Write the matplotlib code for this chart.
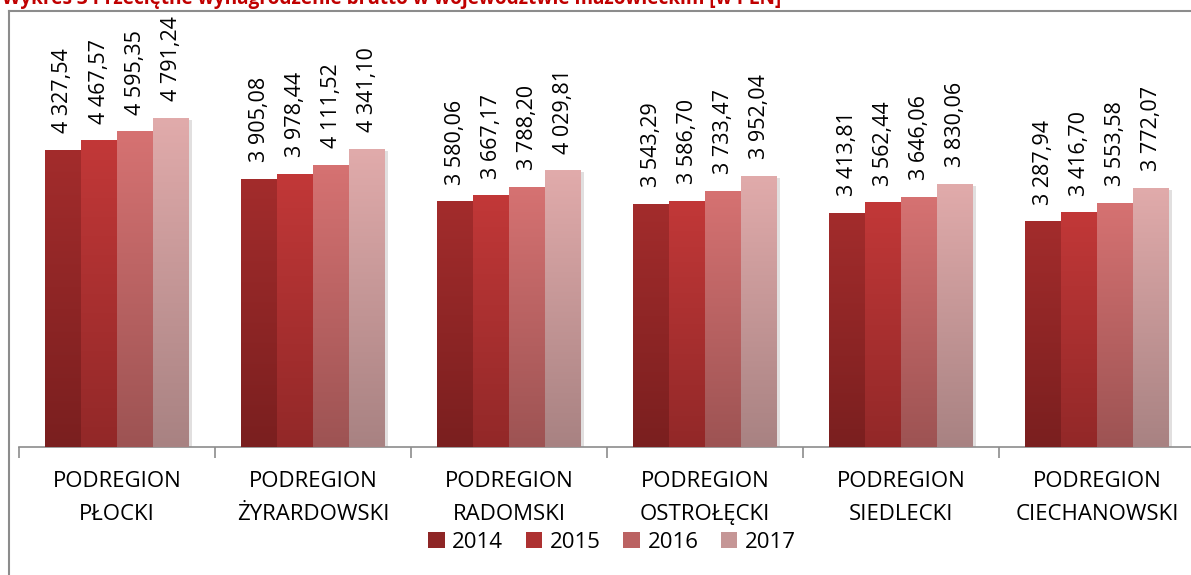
import numpy as np
import matplotlib
matplotlib.use("Agg")
import matplotlib.pyplot as plt
from matplotlib.colors import LinearSegmentedColormap
from matplotlib.patches import Rectangle
import matplotlib.patheffects as pe

# === DATA ===
regions = ["PODREGION\nPŁOCKI", "PODREGION\nŻYRARDOWSKI", "PODREGION\nRADOMSKI",
           "PODREGION\nOSTROŁĘCKI", "PODREGION\nSIEDLECKI", "PODREGION\nCIECHANOWSKI"]
years = ["2014", "2015", "2016", "2017"]
wages_2014 = [4327.54, 3905.08, 3580.06, 3543.29, 3413.81, 3287.94]
wages_2015 = [4467.57, 3978.44, 3667.17, 3586.70, 3562.44, 3416.70]
wages_2016 = [4595.35, 4111.52, 3788.20, 3733.47, 3646.06, 3553.58]
wages_2017 = [4791.24, 4341.10, 4029.81, 3952.04, 3830.06, 3772.07]
series = [wages_2014, wages_2015, wages_2016, wages_2017]

# gradient colours (top, bottom) per year
top_colors = ["#A32C2C", "#C23838", "#D67272", "#E1ABAB"]
bottom_colors = ["#7A1F1F", "#922828", "#9D5353", "#A88282"]
legend_colors = ["#8E2626", "#AD3131", "#BB6262", "#C59696"]

FONT = "Open Sans"

def fmt(v):
    s = f"{v:,.2f}"
    return s.replace(",", " ").replace(".", ",")

# === PLOT ===
fig = plt.figure(figsize=(11.91, 5.75), dpi=100)
ax = fig.add_axes([19 / 1191, 128 / 575, 1176 / 1191, 412 / 575])

x = np.arange(len(regions))
bw = 36 / 196
for i, vals in enumerate(series):
    offs = (i - 1.5) * bw
    bars = ax.bar(x + offs, vals, width=bw, color=legend_colors[i], linewidth=0, zorder=2)
    cmap = LinearSegmentedColormap.from_list(f"g{i}", [bottom_colors[i], top_colors[i]])
    grad = np.linspace(0, 1, 256).reshape(-1, 1)
    for b, v in zip(bars, vals):
        b.set_path_effects([pe.SimplePatchShadow(offset=(2, -1.5), alpha=0.15), pe.Normal()])
        x0 = b.get_x()
        im = ax.imshow(grad, cmap=cmap, aspect="auto", origin="lower",
                       extent=(x0, x0 + bw, 0, v), zorder=3)
        im.set_clip_path(b)
        ax.annotate(fmt(v), (x0 + bw / 2, v), xytext=(0, 12), textcoords="offset points",
                    rotation=90, ha="center", va="bottom", fontsize=15.5,
                    family=FONT, color="black", zorder=4)

ax.set_xlim(-0.5, len(regions) - 0.5)
ax.set_ylim(0, 6000)
ax.set_yticks([])
for s in ["top", "right", "left"]:
    ax.spines[s].set_visible(False)
ax.spines["bottom"].set_color("#8c8c8c")
ax.spines["bottom"].set_linewidth(1.2)

ax.set_xticks(np.arange(len(regions) + 1) - 0.5, minor=False)
ax.set_xticklabels([])
ax.tick_params(axis="x", length=8, width=1.2, color="#8c8c8c", direction="out")
for xi, lab in zip(x, regions):
    ax.text(xi, -0.058, lab, transform=ax.get_xaxis_transform(), ha="center", va="top",
            fontsize=16, family=FONT, linespacing=1.75)

# legend
handles = [Rectangle((0, 0), 1, 1, facecolor=c, edgecolor="none") for c in legend_colors]
fig.legend(handles, years, loc="center", bbox_to_anchor=(612 / 1191, 1 - 542 / 575),
           ncol=4, frameon=False, prop={"family": FONT, "size": 16},
           handlelength=0.75, handleheight=0.75, handletextpad=0.35, columnspacing=1.0,
           borderaxespad=0)

# outer frame (left and top edges)
fig.add_artist(plt.Line2D([8.5 / 1191, 8.5 / 1191], [0, 1 - 10.5 / 575],
                          transform=fig.transFigure, color="#8c8c8c", lw=1.5))
fig.add_artist(plt.Line2D([8.5 / 1191, 1], [1 - 10.5 / 575, 1 - 10.5 / 575],
                          transform=fig.transFigure, color="#8c8c8c", lw=1.5))

# title, mostly cut off at the top edge (as in the source image)
fig.text(2 / 1191, 1 - 4 / 575,
         "Wykres 3 Przeciętne wynagrodzenie brutto w województwie mazowieckim [w PLN]",
         ha="left", va="baseline", fontsize=13.7, fontweight="bold", family=FONT, color="#C00000")

fig.savefig("out.png", dpi=100)
